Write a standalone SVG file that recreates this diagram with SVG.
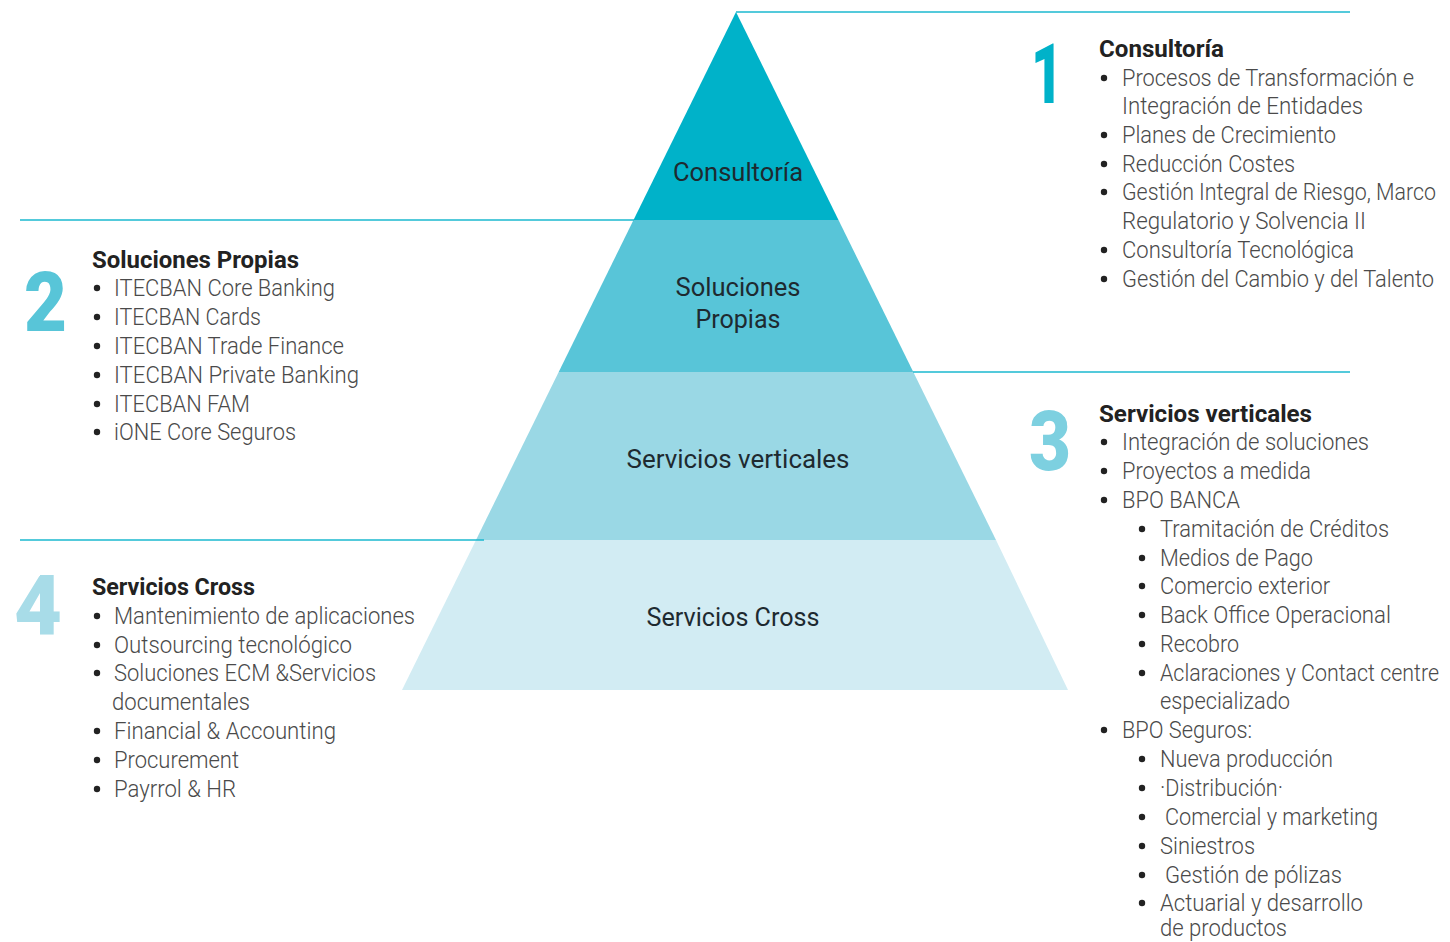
<svg xmlns="http://www.w3.org/2000/svg" width="1450" height="942" viewBox="0 0 1450 942">
<style>
.ln{stroke:#1bb8cf;stroke-width:1.5;fill:none}
.num{font-family:Roboto,"Liberation Sans",sans-serif;font-weight:900;font-size:84px}
.hd{font-family:Roboto,"Liberation Sans",sans-serif;font-weight:700;font-size:24px;fill:#222}
.it{font-family:Roboto,"Liberation Sans",sans-serif;font-weight:300;font-size:23px;fill:#4a4a4a}
.pl{font-family:Roboto,"Liberation Sans",sans-serif;font-weight:400;font-size:26px;fill:#1e2a30;text-anchor:middle}
.b{fill:#222}
</style>
<g id="pyramid">
<g id="level1"><polygon points="736,12 838.5,220 633.5,220" fill="#00b2c9"/><text class="pl" x="738" y="181" textLength="130" lengthAdjust="spacingAndGlyphs">Consultoría</text></g>
<g id="level2"><polygon points="633.5,220 838.5,220 913.3,372 558.7,372" fill="#58c5d8"/><text class="pl" x="738" y="296" textLength="125" lengthAdjust="spacingAndGlyphs">Soluciones</text><text class="pl" x="738" y="328" textLength="85" lengthAdjust="spacingAndGlyphs">Propias</text></g>
<g id="level3"><polygon points="558.7,372 913.3,372 996,540 476,540" fill="#9ad8e5"/><text class="pl" x="738" y="468" textLength="223" lengthAdjust="spacingAndGlyphs">Servicios verticales</text></g>
<g id="level4"><polygon points="476,540 996,540 1068,690 402,690" fill="#d2ecf3"/><text class="pl" x="733" y="626" textLength="173" lengthAdjust="spacingAndGlyphs">Servicios Cross</text></g>
</g>
<g id="connectors">
<line class="ln" x1="736" y1="12" x2="1350" y2="12"/>
<line class="ln" x1="20" y1="220" x2="634" y2="220"/>
<line class="ln" x1="913" y1="372" x2="1350" y2="372"/>
<line class="ln" x1="20" y1="540" x2="484" y2="540"/>
</g>
<g id="block1">
<text class="num" x="1031" y="103" fill="#00b2c9" textLength="32" lengthAdjust="spacingAndGlyphs">1</text>
<text class="hd" x="1099" y="57" textLength="125" lengthAdjust="spacingAndGlyphs">Consultoría</text>
<circle class="b" cx="1104" cy="78" r="3.2"/><text class="it" x="1122" y="86" textLength="292" lengthAdjust="spacingAndGlyphs">Procesos de Transformación e</text>
<text class="it" x="1122" y="114" textLength="241" lengthAdjust="spacingAndGlyphs">Integración de Entidades</text>
<circle class="b" cx="1104" cy="135" r="3.2"/><text class="it" x="1122" y="143" textLength="214" lengthAdjust="spacingAndGlyphs">Planes de Crecimiento</text>
<circle class="b" cx="1104" cy="164" r="3.2"/><text class="it" x="1122" y="172" textLength="173" lengthAdjust="spacingAndGlyphs">Reducción Costes</text>
<circle class="b" cx="1104" cy="192" r="3.2"/><text class="it" x="1122" y="200" textLength="314" lengthAdjust="spacingAndGlyphs">Gestión Integral de Riesgo, Marco</text>
<text class="it" x="1122" y="229" textLength="244" lengthAdjust="spacingAndGlyphs">Regulatorio y Solvencia II</text>
<circle class="b" cx="1104" cy="250" r="3.2"/><text class="it" x="1122" y="258" textLength="232" lengthAdjust="spacingAndGlyphs">Consultoría Tecnológica</text>
<circle class="b" cx="1104" cy="279" r="3.2"/><text class="it" x="1122" y="287" textLength="312" lengthAdjust="spacingAndGlyphs">Gestión del Cambio y del Talento</text>
</g>
<g id="block2">
<text class="num" x="24" y="331" fill="#58c5d8" textLength="43" lengthAdjust="spacingAndGlyphs">2</text>
<text class="hd" x="92" y="268" textLength="207" lengthAdjust="spacingAndGlyphs">Soluciones Propias</text>
<circle class="b" cx="97" cy="288" r="3.2"/><text class="it" x="114" y="296" textLength="221" lengthAdjust="spacingAndGlyphs">ITECBAN Core Banking</text>
<circle class="b" cx="97" cy="317" r="3.2"/><text class="it" x="114" y="325" textLength="147" lengthAdjust="spacingAndGlyphs">ITECBAN Cards</text>
<circle class="b" cx="97" cy="346" r="3.2"/><text class="it" x="114" y="354" textLength="230" lengthAdjust="spacingAndGlyphs">ITECBAN Trade Finance</text>
<circle class="b" cx="97" cy="375" r="3.2"/><text class="it" x="114" y="383" textLength="245" lengthAdjust="spacingAndGlyphs">ITECBAN Private Banking</text>
<circle class="b" cx="97" cy="404" r="3.2"/><text class="it" x="114" y="412" textLength="136" lengthAdjust="spacingAndGlyphs">ITECBAN FAM</text>
<circle class="b" cx="97" cy="432" r="3.2"/><text class="it" x="114" y="440" textLength="182" lengthAdjust="spacingAndGlyphs">iONE Core Seguros</text>
</g>
<g id="block3">
<text class="num" x="1029" y="470" fill="#7dd0e0" textLength="42" lengthAdjust="spacingAndGlyphs">3</text>
<text class="hd" x="1099" y="422" textLength="213" lengthAdjust="spacingAndGlyphs">Servicios verticales</text>
<circle class="b" cx="1104" cy="442" r="3.2"/><text class="it" x="1122" y="450" textLength="247" lengthAdjust="spacingAndGlyphs">Integración de soluciones</text>
<circle class="b" cx="1104" cy="471" r="3.2"/><text class="it" x="1122" y="479" textLength="189" lengthAdjust="spacingAndGlyphs">Proyectos a medida</text>
<circle class="b" cx="1104" cy="500" r="3.2"/><text class="it" x="1122" y="508" textLength="118" lengthAdjust="spacingAndGlyphs">BPO BANCA</text>
<circle class="b" cx="1142" cy="529" r="3.2"/><text class="it" x="1160" y="537" textLength="229" lengthAdjust="spacingAndGlyphs">Tramitación de Créditos</text>
<circle class="b" cx="1142" cy="558" r="3.2"/><text class="it" x="1160" y="566" textLength="153" lengthAdjust="spacingAndGlyphs">Medios de Pago</text>
<circle class="b" cx="1142" cy="586" r="3.2"/><text class="it" x="1160" y="594" textLength="170" lengthAdjust="spacingAndGlyphs">Comercio exterior</text>
<circle class="b" cx="1142" cy="615" r="3.2"/><text class="it" x="1160" y="623" textLength="231" lengthAdjust="spacingAndGlyphs">Back Office Operacional</text>
<circle class="b" cx="1142" cy="644" r="3.2"/><text class="it" x="1160" y="652" textLength="79" lengthAdjust="spacingAndGlyphs">Recobro</text>
<circle class="b" cx="1142" cy="673" r="3.2"/><text class="it" x="1160" y="681" textLength="279" lengthAdjust="spacingAndGlyphs">Aclaraciones y Contact centre</text>
<text class="it" x="1160" y="709" textLength="130" lengthAdjust="spacingAndGlyphs">especializado</text>
<circle class="b" cx="1104" cy="730" r="3.2"/><text class="it" x="1122" y="738" textLength="130" lengthAdjust="spacingAndGlyphs">BPO Seguros:</text>
<circle class="b" cx="1142" cy="759" r="3.2"/><text class="it" x="1160" y="767" textLength="173" lengthAdjust="spacingAndGlyphs">Nueva producción</text>
<circle class="b" cx="1142" cy="788" r="3.2"/><text class="it" x="1160" y="796" textLength="123" lengthAdjust="spacingAndGlyphs">·Distribución·</text>
<circle class="b" cx="1142" cy="817" r="3.2"/><text class="it" x="1165" y="825" textLength="213" lengthAdjust="spacingAndGlyphs">Comercial y marketing</text>
<circle class="b" cx="1142" cy="846" r="3.2"/><text class="it" x="1160" y="854" textLength="95" lengthAdjust="spacingAndGlyphs">Siniestros</text>
<circle class="b" cx="1142" cy="875" r="3.2"/><text class="it" x="1165" y="883" textLength="177" lengthAdjust="spacingAndGlyphs">Gestión de pólizas</text>
<circle class="b" cx="1142" cy="903" r="3.2"/><text class="it" x="1160" y="911" textLength="203" lengthAdjust="spacingAndGlyphs">Actuarial y desarrollo</text>
<text class="it" x="1160" y="936" textLength="127" lengthAdjust="spacingAndGlyphs">de productos</text>
</g>
<g id="block4">
<text class="num" x="14" y="635" fill="#a8dce8" textLength="48" lengthAdjust="spacingAndGlyphs">4</text>
<text class="hd" x="92" y="595" textLength="163" lengthAdjust="spacingAndGlyphs">Servicios Cross</text>
<circle class="b" cx="97" cy="616" r="3.2"/><text class="it" x="114" y="624" textLength="301" lengthAdjust="spacingAndGlyphs">Mantenimiento de aplicaciones</text>
<circle class="b" cx="97" cy="645" r="3.2"/><text class="it" x="114" y="653" textLength="238" lengthAdjust="spacingAndGlyphs">Outsourcing tecnológico</text>
<circle class="b" cx="97" cy="673" r="3.2"/><text class="it" x="114" y="681" textLength="262" lengthAdjust="spacingAndGlyphs">Soluciones ECM &amp;Servicios</text>
<text class="it" x="112" y="710" textLength="138" lengthAdjust="spacingAndGlyphs">documentales</text>
<circle class="b" cx="97" cy="731" r="3.2"/><text class="it" x="114" y="739" textLength="222" lengthAdjust="spacingAndGlyphs">Financial &amp; Accounting</text>
<circle class="b" cx="97" cy="760" r="3.2"/><text class="it" x="114" y="768" textLength="125" lengthAdjust="spacingAndGlyphs">Procurement</text>
<circle class="b" cx="97" cy="789" r="3.2"/><text class="it" x="114" y="797" textLength="122" lengthAdjust="spacingAndGlyphs">Payrrol &amp; HR</text>
</g>
</svg>
